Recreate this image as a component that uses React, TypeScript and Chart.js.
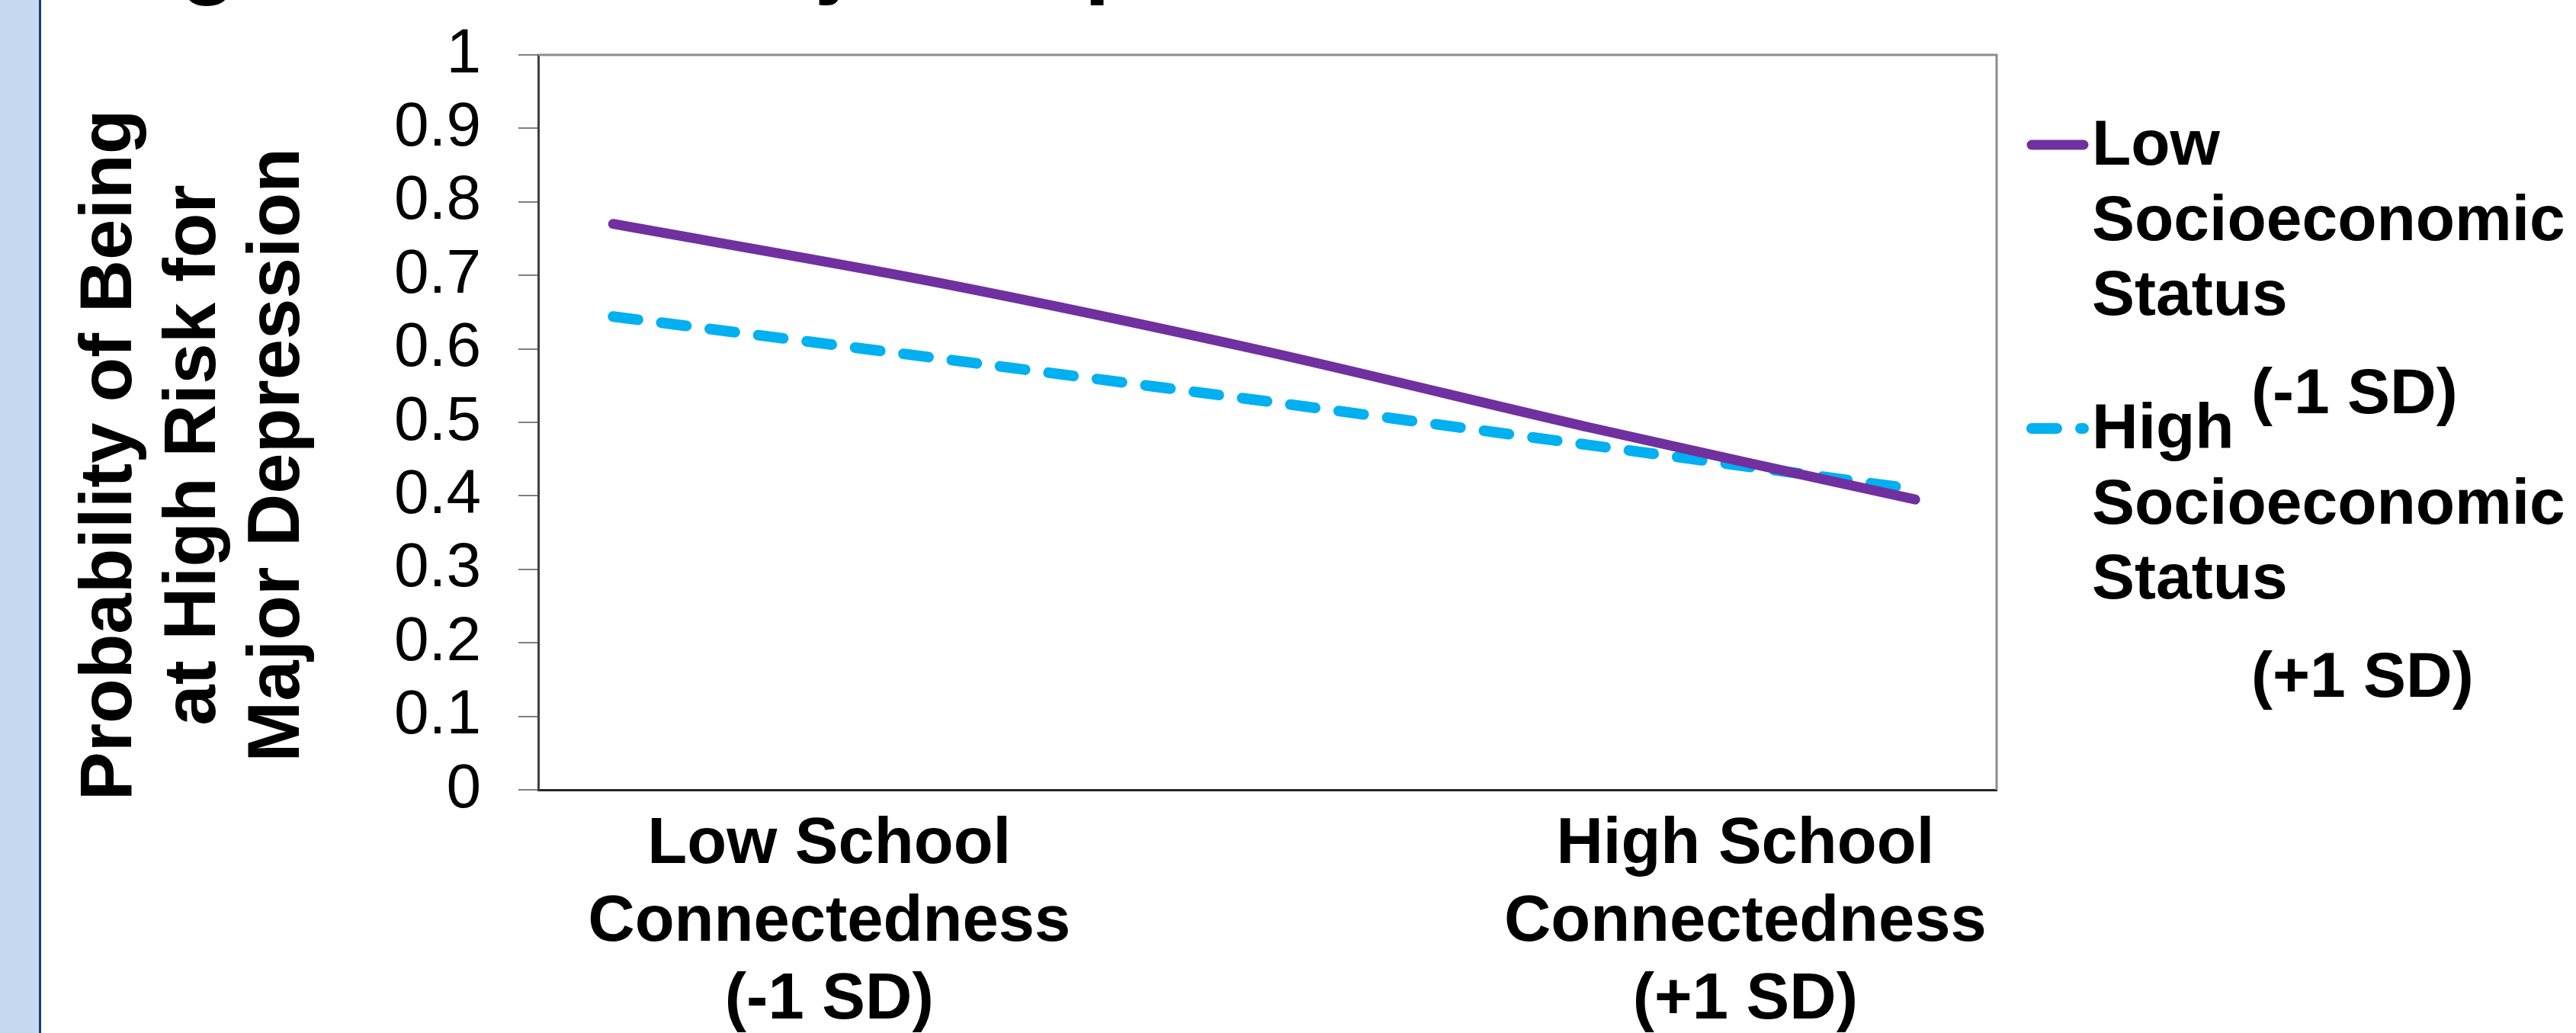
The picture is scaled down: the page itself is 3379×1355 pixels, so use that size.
import React, { useEffect, useRef } from "react";
import { Chart, registerables } from "chart.js";

Chart.register(...registerables);

// ---- data ----
const X_VALUES = [-1, -0.5, 0, 0.5, 1];
const LOW_SES = [0.77, 0.69, 0.597, 0.493, 0.395];
const HIGH_SES = [0.644, 0.587, 0.529, 0.469, 0.409];
const SERIES_NAMES = ["Low Socioeconomic Status (-1 SD)", "High Socioeconomic Status (+1 SD)"];
const SERIES_COLORS = ["#7030A0", "#00B0F0"];
const LEGEND_LINES = [
  ["Low", "Socioeconomic", "Status", "(-1 SD)"],
  ["High", "Socioeconomic", "Status", "(+1 SD)"],
];
const X_LABEL_VALUES = [-0.668, 0.739];
const X_LABELS = [
  ["Low School", "Connectedness", "(-1 SD)"],
  ["High School", "Connectedness", "(+1 SD)"],
];
const Y_TICK_LABELS = ["0", "0.1", "0.2", "0.3", "0.4", "0.5", "0.6", "0.7", "0.8", "0.9", "1"];
const Y_TITLE = ["Probability of Being", "at High Risk for", "Major Depression"];
const TOP_TITLE = "Probability of Being at High Risk for Major Depression";
const TOP_TITLE_PREFIX = "Probability of Being at Hi";

const FONT = '"Liberation Sans", Arial, sans-serif';
const W = 3379;
const H = 1355;

const decorPlugin = {
  id: "decor",
  afterDraw(chart: any) {
    const { ctx, chartArea } = chart;
    const { left, right, top, bottom } = chartArea;
    ctx.save();

    // plot border (top + right)
    ctx.strokeStyle = "#8c8c8c";
    ctx.lineWidth = 3;
    ctx.beginPath();
    ctx.moveTo(left, top);
    ctx.lineTo(right, top);
    ctx.lineTo(right, bottom);
    ctx.stroke();

    // legend
    const ds = chart.data.datasets;
    ctx.font = `bold 84px ${FONT}`;
    ctx.fillStyle = "#000";
    ctx.textAlign = "left";
    ctx.textBaseline = "alphabetic";
    LEGEND_LINES.forEach((lines, i) => {
      const base = 216 + i * 372;
      const sy = base - 26;
      ctx.save();
      ctx.strokeStyle = ds[i].borderColor;
      ctx.lineWidth = ds[i].borderWidth;
      ctx.lineCap = "round";
      ctx.setLineDash(ds[i].borderDash || []);
      ctx.beginPath();
      ctx.moveTo(2665, sy);
      ctx.lineTo(2733, sy);
      ctx.stroke();
      ctx.restore();
      for (let k = 0; k < 3; k++) {
        ctx.fillText(lines[k], 2744, base + k * 98.5);
      }
      ctx.fillText(lines[3], 2953, base + 326);
    });

    // y-axis title (rotated)
    ctx.save();
    ctx.translate(0, 597);
    ctx.rotate(-Math.PI / 2);
    ctx.font = `bold 96px ${FONT}`;
    ctx.textAlign = "center";
    ctx.textBaseline = "alphabetic";
    ctx.fillStyle = "#000";
    Y_TITLE.forEach((t, i) => ctx.fillText(t, 0, 172 + i * 110));
    ctx.restore();

    // cut-off slide title at the very top
    ctx.font = `bold 122px ${FONT}`;
    ctx.textAlign = "left";
    const pre = ctx.measureText(TOP_TITLE_PREFIX).width;
    ctx.fillText(TOP_TITLE, 236 - pre, -18);

    // left decorative strip
    ctx.fillStyle = "#C6D9F1";
    ctx.fillRect(0, 0, 51, H);
    ctx.fillStyle = "#1F3C6E";
    ctx.fillRect(51, 0, 3, H);

    ctx.restore();
  },
};

export default function App() {
  const ref = useRef<HTMLCanvasElement | null>(null);

  useEffect(() => {
    if (!ref.current) return;
    const chart = new Chart(ref.current, {
      type: "line",
      data: {
        datasets: [
          {
            label: SERIES_NAMES[0],
            data: X_VALUES.map((x, i) => ({ x, y: LOW_SES[i] })),
            borderColor: SERIES_COLORS[0],
            backgroundColor: SERIES_COLORS[0],
            borderWidth: 13,
            borderCapStyle: "round",
            borderJoinStyle: "round",
            pointRadius: 0,
            tension: 0.3,
            fill: false,
          },
          {
            label: SERIES_NAMES[1],
            data: X_VALUES.map((x, i) => ({ x, y: HIGH_SES[i] })),
            borderColor: SERIES_COLORS[1],
            backgroundColor: SERIES_COLORS[1],
            borderWidth: 14,
            borderDash: [33, 31],
            borderCapStyle: "round",
            borderJoinStyle: "round",
            pointRadius: 0,
            tension: 0.3,
            fill: false,
          },
        ],
      },
      options: {
        animation: false,
        responsive: false,
        maintainAspectRatio: false,
        devicePixelRatio: 1,
        layout: { padding: { left: 0, top: 72, right: W - 2619, bottom: 0 } },
        plugins: {
          legend: { display: false },
          tooltip: { enabled: false },
          title: { display: false },
        },
        scales: {
          x: {
            type: "linear",
            min: -1.115,
            max: 1.125,
            afterBuildTicks: (s: any) => {
              s.ticks = X_LABEL_VALUES.map((v) => ({ value: v }));
            },
            afterFit: (s: any) => {
              s.height = H - 1036;
              s.paddingLeft = 0;
              s.paddingRight = 0;
            },
            grid: { display: false, drawTicks: false },
            border: { display: true, color: "#262626", width: 3 },
            ticks: {
              autoSkip: false,
              maxRotation: 0,
              minRotation: 0,
              padding: 22,
              color: "#000",
              font: { family: FONT, size: 85, weight: "bold", lineHeight: 1.2 },
              callback: (_v: any, i: number) => X_LABELS[i],
            },
          },
          y: {
            type: "linear",
            min: 0,
            max: 1,
            afterFit: (s: any) => {
              s.width = 706;
              s.paddingTop = 0;
              s.paddingBottom = 0;
            },
            grid: {
              display: true,
              drawOnChartArea: false,
              drawTicks: true,
              tickLength: 26,
              color: "#7f7f7f",
              lineWidth: 2,
            },
            border: { display: true, color: "#404040", width: 3 },
            ticks: {
              stepSize: 0.1,
              autoSkip: false,
              padding: 49,
              color: "#000",
              font: { family: FONT, size: 82, weight: "normal", lineHeight: 1.2 },
              callback: (_v: any, i: number) => Y_TICK_LABELS[i],
            },
          },
        },
      },
      plugins: [decorPlugin],
    } as any);
    return () => chart.destroy();
  }, []);

  return (
    <div style={{ position: "fixed", left: 0, top: 0, width: W, height: H, background: "#fff" }}>
      <canvas ref={ref} width={W} height={H} style={{ display: "block", width: W, height: H }} />
    </div>
  );
}
